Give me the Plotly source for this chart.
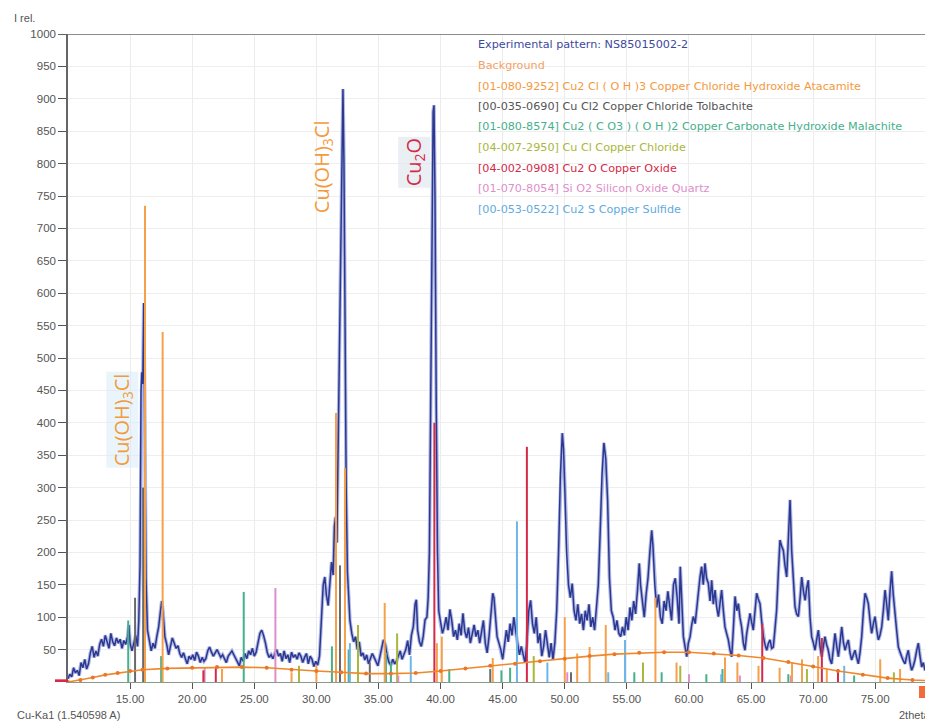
import plotly.graph_objects as go

# ---------------- data ----------------
two_theta = [
    10.0, 10.15, 10.3, 10.45, 10.6, 10.75, 10.9, 11.05, 11.2, 11.35, 11.5, 11.65, 11.8, 11.95, 12.1, 12.25,
    12.4, 12.55, 12.7, 12.85, 13.0, 13.15, 13.3, 13.45, 13.6, 13.75, 13.9, 14.05, 14.2, 14.35, 14.5, 14.65,
    14.8, 14.9, 15.0, 15.15, 15.3, 15.45, 15.6, 15.7, 15.8, 15.88, 15.95, 16.02, 16.1, 16.18, 16.28, 16.4,
    16.55, 16.7, 16.85, 17.0, 17.15, 17.3, 17.45, 17.55, 17.65, 17.8, 17.95, 18.1, 18.25, 18.4, 18.55, 18.7,
    18.85, 19.0, 19.15, 19.3, 19.45, 19.6, 19.75, 19.9, 20.05, 20.2, 20.35, 20.5, 20.65, 20.8, 20.95, 21.1,
    21.25, 21.4, 21.55, 21.7, 21.85, 22.0, 22.15, 22.3, 22.45, 22.6, 22.75, 22.9, 23.05, 23.2, 23.35, 23.5,
    23.65, 23.8, 23.95, 24.1, 24.25, 24.4, 24.55, 24.7, 24.85, 25.0, 25.15, 25.3, 25.45, 25.6, 25.75, 25.9,
    26.05, 26.2, 26.35, 26.5, 26.65, 26.8, 26.95, 27.1, 27.25, 27.4, 27.55, 27.7, 27.85, 28.0, 28.15, 28.3,
    28.45, 28.6, 28.75, 28.9, 29.05, 29.2, 29.35, 29.5, 29.65, 29.8, 29.95, 30.1, 30.25, 30.4, 30.55, 30.68,
    30.8, 30.95, 31.1, 31.22, 31.35, 31.45, 31.55, 31.65, 31.75, 31.85, 31.95, 32.05, 32.14, 32.22, 32.3, 32.4,
    32.5, 32.6, 32.7, 32.85, 33.0, 33.15, 33.3, 33.45, 33.6, 33.75, 33.9, 34.05, 34.2, 34.35, 34.5, 34.65,
    34.8, 34.95, 35.1, 35.25, 35.4, 35.55, 35.7, 35.85, 36.0, 36.15, 36.3, 36.45, 36.6, 36.75, 36.9, 37.05,
    37.2, 37.35, 37.5, 37.65, 37.8, 37.95, 38.05, 38.15, 38.3, 38.45, 38.6, 38.75, 38.9, 39.0, 39.1, 39.2,
    39.3, 39.4, 39.47, 39.55, 39.65, 39.75, 39.85, 40.0, 40.15, 40.3, 40.45, 40.6, 40.75, 40.9, 41.05, 41.2,
    41.35, 41.5, 41.65, 41.8, 41.95, 42.1, 42.25, 42.4, 42.55, 42.7, 42.85, 43.0, 43.15, 43.3, 43.45, 43.6,
    43.75, 43.9, 44.05, 44.2, 44.3, 44.4, 44.55, 44.7, 44.85, 45.0, 45.15, 45.3, 45.45, 45.6, 45.75, 45.9,
    46.05, 46.2, 46.35, 46.5, 46.65, 46.8, 46.95, 47.1, 47.25, 47.4, 47.55, 47.7, 47.85, 48.0, 48.15, 48.3,
    48.45, 48.6, 48.75, 48.9, 49.05, 49.2, 49.35, 49.5, 49.65, 49.8, 49.9, 50.0, 50.15, 50.3, 50.45, 50.6,
    50.75, 50.9, 51.05, 51.2, 51.35, 51.5, 51.65, 51.8, 51.95, 52.1, 52.25, 52.4, 52.55, 52.7, 52.85, 53.0,
    53.15, 53.3, 53.45, 53.6, 53.75, 53.9, 54.05, 54.2, 54.35, 54.5, 54.65, 54.8, 54.95, 55.1, 55.25, 55.4,
    55.55, 55.7, 55.85, 56.0, 56.1, 56.25, 56.4, 56.55, 56.7, 56.85, 57.0, 57.1, 57.25, 57.4, 57.55, 57.7,
    57.85, 58.0, 58.15, 58.3, 58.45, 58.6, 58.75, 58.9, 59.05, 59.2, 59.3, 59.42, 59.55, 59.68, 59.82, 59.95,
    60.09, 60.22, 60.35, 60.5, 60.62, 60.75, 60.89, 61.02, 61.15, 61.29, 61.42, 61.56, 61.7, 61.83, 61.96, 62.1,
    62.23, 62.37, 62.5, 62.63, 62.77, 62.9, 63.03, 63.17, 63.3, 63.44, 63.57, 63.71, 63.85, 63.98, 64.1, 64.24,
    64.38, 64.51, 64.65, 64.78, 64.92, 65.05, 65.18, 65.32, 65.45, 65.58, 65.72, 65.85, 65.99, 66.12, 66.26, 66.4,
    66.53, 66.66, 66.79, 66.92, 67.06, 67.2, 67.33, 67.46, 67.6, 67.73, 67.87, 68.0, 68.14, 68.27, 68.4, 68.54,
    68.67, 68.81, 68.95, 69.08, 69.22, 69.35, 69.48, 69.61, 69.75, 69.88, 70.02, 70.15, 70.28, 70.42, 70.55, 70.69,
    70.82, 70.95, 71.08, 71.22, 71.35, 71.49, 71.62, 71.76, 71.9, 72.03, 72.16, 72.3, 72.43, 72.57, 72.7, 72.83,
    72.97, 73.1, 73.24, 73.37, 73.5, 73.64, 73.77, 73.91, 74.05, 74.18, 74.31, 74.44, 74.58, 74.71, 74.85, 74.98,
    75.12, 75.25, 75.38, 75.52, 75.65, 75.79, 75.92, 76.05, 76.19, 76.32, 76.45, 76.59, 76.72, 76.86, 77.0, 77.13,
    77.27, 77.4, 77.53, 77.66, 77.8, 77.93, 78.07, 78.2, 78.33, 78.47, 78.6, 78.74, 78.87, 79.01, 79.14, 79.27,
    79.4, 79.54, 79.65,
]
intensity = [
    5, 12, 8, 22, 14, 18, 10, 30, 22, 35, 20, 28, 45, 55, 38, 48,
    40, 58, 66, 55, 72, 60, 52, 75, 62, 56, 68, 60, 66, 52, 64, 58,
    70, 88, 60, 48, 62, 72, 55, 95, 180, 450, 478, 460, 585, 420, 160, 80,
    62, 48, 60, 52, 70, 85, 110, 125, 108, 70, 58, 42, 55, 68, 60, 52,
    56, 44, 38, 45, 36, 28, 40, 35, 42, 33, 46, 40, 30, 38, 32, 36,
    48, 54, 46, 40, 45, 50, 44, 38, 42, 36, 30, 40, 45, 48, 42, 36,
    30, 25, 38, 32, 44, 36, 48, 42, 52, 40, 46, 58, 75, 80, 72, 60,
    45, 38, 42, 36, 44, 50, 40, 44, 32, 48, 36, 42, 30, 46, 38, 42,
    35, 45, 40, 30, 38, 44, 28, 40, 35, 24, 32, 26, 40, 90, 150, 162,
    135, 118, 150, 185, 165, 240, 255, 215, 360, 500, 650, 860, 915, 800, 520, 300,
    170, 120, 95, 75, 62, 70, 50, 62, 40, 45, 34, 42, 28, 36, 44, 38,
    30, 25, 38, 52, 65, 58, 40, 30, 26, 35, 28, 32, 40, 48, 35, 42,
    50, 64, 42, 72, 85, 120, 127, 80, 62, 55, 70, 96, 100, 130, 200, 420,
    720, 880, 890, 750, 430, 200, 110, 90, 75, 85, 100, 80, 112, 95, 70, 80,
    65, 90, 72, 106, 78, 68, 84, 60, 74, 88, 70, 80, 60, 75, 95, 60,
    45, 70, 100, 137, 130, 110, 70, 60, 50, 35, 55, 80, 62, 90, 72, 100,
    78, 60, 42, 55, 40, 30, 60, 110, 126, 90, 75, 100, 60, 75, 40, 55,
    80, 55, 38, 60, 35, 60, 110, 200, 320, 384, 360, 300, 200, 150, 130, 152,
    110, 95, 120, 90, 105, 80, 110, 95, 120, 85, 100, 80, 110, 150, 230, 320,
    369, 345, 280, 160, 110, 100, 80, 95, 75, 70, 85, 72, 100, 80, 115, 95,
    125, 105, 140, 183, 150, 120, 100, 135, 160, 200, 234, 210, 150, 115, 135, 100,
    90, 125, 110, 140, 120, 95, 150, 160, 130, 90, 178, 110, 70, 55, 39, 60,
    70, 88, 101, 90, 116, 140, 162, 178, 150, 183, 160, 152, 125, 157, 120, 142,
    115, 101, 125, 142, 110, 85, 75, 65, 50, 39, 80, 132, 110, 121, 100, 85,
    60, 49, 75, 90, 106, 92, 80, 110, 137, 128, 121, 95, 70, 58, 49, 60,
    65, 52, 54, 80, 111, 170, 219, 210, 203, 180, 162, 220, 281, 203, 150, 116,
    105, 101, 130, 162, 140, 126, 145, 157, 100, 70, 60, 49, 65, 80, 55, 39,
    55, 70, 58, 49, 35, 28, 50, 75, 55, 39, 60, 85, 62, 49, 58, 65,
    45, 34, 42, 49, 38, 28, 45, 70, 110, 137, 130, 121, 95, 75, 90, 101,
    80, 65, 72, 85, 110, 142, 120, 95, 140, 171, 135, 111, 80, 54, 45, 39,
    32, 28, 40, 49, 30, 18, 25, 34, 48, 60, 40, 23, 30, 18, 24, 28,
    20, 13, 18,
]

bg_theta = [10, 11, 12, 13, 14, 15, 16, 18, 20, 22, 24, 26, 28, 30, 32, 34, 36, 38, 40,
            42, 44, 46, 48, 50, 52, 54, 56, 58, 60, 62, 64, 66, 68, 70, 72, 74, 76, 78, 79.65]
bg_int = [0, 3, 7, 11, 14, 17, 19, 21, 22, 23, 23, 22, 19, 17, 15, 13, 13, 14, 17,
          21, 25, 28, 32, 36, 40, 43, 45, 46, 46, 44, 41, 37, 31, 24, 17, 11, 6, 3, 2]

atacamite_pos = [16.2, 17.62, 22.4, 28.0, 30.0, 31.58, 32.3, 35.5, 39.7, 40.1, 44.2, 50.0, 51.0, 52.0,
                 53.3, 57.3, 59.0, 62.9, 63.9, 65.6, 67.3, 68.3, 69.1, 70.4, 71.1, 75.4, 77.0]
atacamite_h = [735, 540, 20, 15, 25, 415, 330, 122, 60, 70, 37, 100, 44, 54,
               88, 130, 30, 38, 30, 25, 22, 30, 35, 40, 20, 35, 20]
tolbachite_pos = [15.4, 16.05, 31.9, 34.3, 44.0, 50.5]
tolbachite_h = [130, 300, 180, 30, 20, 15]
malachite_pos = [14.85, 17.5, 24.15, 31.25, 32.6, 35.6, 36.0, 40.7, 44.9, 45.6, 55.6, 57.8, 61.4, 62.7, 68.0, 73.3]
malachite_h = [95, 40, 139, 55, 50, 45, 30, 20, 18, 22, 15, 15, 12, 20, 12, 10]
cucl_pos = [28.6, 33.35, 36.5, 47.5, 56.3, 59.3, 69.5, 76.5]
cucl_h = [25, 88, 75, 40, 30, 25, 20, 15]
cu2o_pos = [20.9, 21.9, 39.5, 46.95, 65.9, 70.7, 72.0]
cu2o_h = [18, 22, 400, 363, 90, 68, 20]
quartz_pos = [21.0, 26.7, 36.6, 50.2, 60.0, 64.1, 68.2]
quartz_h = [22, 145, 10, 15, 12, 10, 10]
cu2s_pos = [32.7, 37.6, 46.15, 48.6, 53.5, 54.85, 62.6, 72.5]
cu2s_h = [60, 40, 248, 30, 15, 65, 12, 25]

x_tick_vals = [15, 20, 25, 30, 35, 40, 45, 50, 55, 60, 65, 70, 75]
x_tick_text = ["15.00", "20.00", "25.00", "30.00", "35.00", "40.00", "45.00",
               "50.00", "55.00", "60.00", "65.00", "70.00", "75.00"]
y_tick_vals = [50, 100, 150, 200, 250, 300, 350, 400, 450, 500, 550, 600, 650, 700,
               750, 800, 850, 900, 950, 1000]

legend_entries = [
    ("Experimental pattern: NS85015002-2", "#3d4a9e"),
    ("Background", "#f3a266"),
    ("[01-080-9252] Cu2 Cl ( O H )3 Copper Chloride Hydroxide Atacamite", "#f39a3e"),
    ("[00-035-0690] Cu Cl2 Copper Chloride Tolbachite", "#555555"),
    ("[01-080-8574] Cu2 ( C O3 ) ( O H )2 Copper Carbonate Hydroxide Malachite", "#45b08c"),
    ("[04-007-2950] Cu Cl Copper Chloride", "#a9b83a"),
    ("[04-002-0908] Cu2 O Copper Oxide", "#d42a48"),
    ("[01-070-8054] Si O2 Silicon Oxide Quartz", "#de8fc9"),
    ("[00-053-0522] Cu2 S Copper Sulfide", "#5fabe0"),
]

# page layout (the page body adds an 8 px offset)
PLOT_L, PLOT_T, PLOT_W, PLOT_H = 68, 34, 865, 648


def px(xp):
    return (xp - PLOT_L) / PLOT_W


def py(yp):
    return (PLOT_T + PLOT_H - yp) / PLOT_H


# ---------------- figure ----------------
fig = go.Figure()

fig.add_trace(go.Scatter(x=two_theta, y=intensity, mode="lines",
                         line=dict(color="#b3b9e4", width=3.6), hoverinfo="skip"))
fig.add_trace(go.Scatter(x=two_theta, y=intensity, mode="lines",
                         line=dict(color="#2a3890", width=1.5), name="Experimental"))


def sticks(pos, h):
    xs, ys = [], []
    for p, v in zip(pos, h):
        xs += [p, p, None]
        ys += [0, v, None]
    return xs, ys


stick_sets = [
    (malachite_pos, malachite_h, "#45b08c"),
    (cucl_pos, cucl_h, "#a9b83a"),
    (quartz_pos, quartz_h, "#de8fc9"),
    (cu2s_pos, cu2s_h, "#6fb6e8"),
    (tolbachite_pos, tolbachite_h, "#6a6a6a"),
    (atacamite_pos, atacamite_h, "#f5a04a"),
    (cu2o_pos, cu2o_h, "#d42a48"),
]
for pos, h, col in stick_sets:
    xs, ys = sticks(pos, h)
    fig.add_trace(go.Scatter(x=xs, y=ys, mode="lines", line=dict(color=col, width=2),
                             hoverinfo="skip"))

fig.add_trace(go.Scatter(x=bg_theta, y=bg_int, mode="lines+markers",
                         line=dict(color="#f0872a", width=1.6),
                         marker=dict(size=4, color="#e8772a")))

annotations = []
for i, (txt, col) in enumerate(legend_entries):
    annotations.append(dict(x=px(476), y=py(45 + i * 20.5), xref="paper", yref="paper",
                            text=txt, showarrow=False, xanchor="left", yanchor="middle",
                            font=dict(family="DejaVu Sans", size=11.2, color=col)))

annotations += [
    dict(x=14.35, y=404, xref="x", yref="y", text="Cu(OH)<sub>3</sub>Cl", textangle=-90,
         showarrow=False, font=dict(family="Open Sans, Liberation Sans", size=20, color="#f39a3c"),
         bgcolor="rgba(215,236,248,0.55)"),
    dict(x=30.45, y=796, xref="x", yref="y", text="Cu(OH)<sub>3</sub>Cl", textangle=-90,
         showarrow=False, font=dict(family="Open Sans, Liberation Sans", size=20, color="#f39a3c")),
    dict(x=37.86, y=802, xref="x", yref="y", text="Cu<sub>2</sub>O", textangle=-90,
         showarrow=False, font=dict(family="Open Sans, Liberation Sans", size=20, color="#d42a48"),
         bgcolor="rgba(225,232,240,0.7)"),
    dict(x=px(12), y=py(18), xref="paper", yref="paper", text="I rel.",
         showarrow=False, xanchor="left", yanchor="middle",
         font=dict(family="Liberation Sans, Arial", size=11, color="#555555")),
    dict(x=px(15), y=py(715), xref="paper", yref="paper",
         text="Cu-Ka1 (1.540598 A)", showarrow=False, xanchor="left", yanchor="middle",
         font=dict(family="Liberation Sans, Arial", size=11, color="#555555")),
    dict(x=px(897), y=py(715), xref="paper", yref="paper",
         text="2theta", showarrow=False, xanchor="left", yanchor="middle",
         font=dict(family="Liberation Sans, Arial", size=11, color="#555555")),
]

shapes = [
    dict(type="line", xref="paper", yref="y", x0=px(58), x1=1, y0=1000, y1=1000,
         line=dict(color="#666666", width=1.5)),
    dict(type="rect", xref="paper", yref="paper", x0=px(919), x1=1.0,
         y0=py(698), y1=py(686), fillcolor="#f26b3a", line=dict(width=0)),
    dict(type="line", xref="paper", yref="y", x0=px(55), x1=0, y0=1, y1=1,
         line=dict(color="#d42a48", width=4)),
]

fig.update_layout(
    width=925, height=717,
    margin=dict(l=60, r=0, t=26, b=43),
    paper_bgcolor="white", plot_bgcolor="white",
    showlegend=False,
    annotations=annotations,
    shapes=shapes,
    font=dict(family="Liberation Sans, Arial", size=11, color="#555555"),
    xaxis=dict(range=[10, 79.65], tickvals=x_tick_vals, ticktext=x_tick_text,
               showgrid=True, gridcolor="#ececec", gridwidth=1,
               ticks="outside", ticklen=6, tickcolor="#555555",
               showline=True, linecolor="#8a9a8a", linewidth=1, zeroline=False,
               tickfont=dict(size=11.5, color="#555555")),
    yaxis=dict(range=[0, 1000], tickvals=y_tick_vals,
               showgrid=True, gridcolor="#eeeeee", gridwidth=1,
               ticks="outside", ticklen=8, tickcolor="#555555",
               showline=True, linecolor="#666666", linewidth=1.5, zeroline=False,
               tickfont=dict(size=11.5, color="#555555")),
)

fig.write_html("out.html")
